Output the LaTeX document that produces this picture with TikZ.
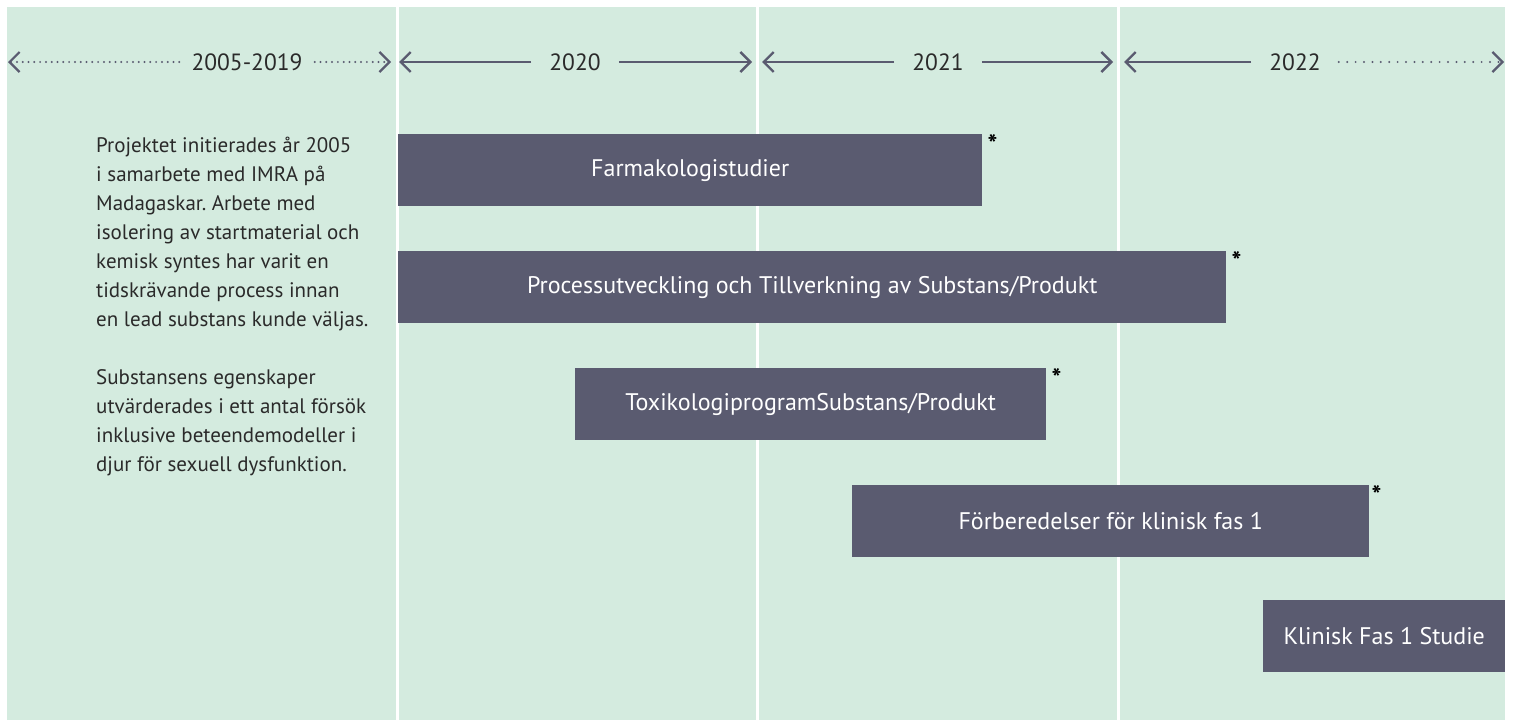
\documentclass[tikz,border=0pt]{standalone}
\usepackage{fontspec}
\setmainfont{PT Sans}
\usepackage{xcolor}
\usetikzlibrary{arrows.meta, positioning}
\definecolor{PaleMint}{HTML}{D4EBDF}
\definecolor{SlateBar}{HTML}{5A5B70}
\definecolor{InkGray}{HTML}{2A2A2A}
\frenchspacing

\begin{document}
\begin{tikzpicture}[
    x=1pt, y=-1pt,
    bar/.style={fill=SlateBar, text=white, font=\fontsize{24}{28}\selectfont, minimum height=72pt, inner sep=0pt, anchor=north west},
    yr/.style={font=\fontsize{23.5}{28}\selectfont, InkGray, inner xsep=18pt, inner ysep=0pt},
    span/.style={SlateBar, line width=2.4pt, -{Straight Barb[length=10pt, width=20pt]}},
    dots/.style={span, line width=2.2pt, line cap=round},
    body/.style={font=\fontsize{21}{29}\selectfont, InkGray, align=left, inner sep=0pt, anchor=north west},
    note/.style={font=\bfseries\fontsize{26}{28}\selectfont, text=black, inner sep=0pt, anchor=north west}
]
\useasboundingbox (0,0) rectangle (1514,720);

% Background and year columns
\fill[PaleMint] (7,7) rectangle (1505,720);
\foreach \x in {397.5, 757.5, 1118.5} {
    \draw[white, line width=2.5pt] (\x,7) -- (\x,720);
}

% Year headers
\node[yr, inner xsep=12pt] (y0) at (247,62) {2005-2019};
\node[yr] (y1) at (575,62) {2020};
\node[yr] (y2) at (938,62) {2021};
\node[yr] (y3) at (1295,62) {2022};

\coordinate (y0l) at (8,62);    \coordinate (y0r) at (391,62);
\coordinate (y1l) at (399,62);  \coordinate (y1r) at (752,62);
\coordinate (y2l) at (762,62);  \coordinate (y2r) at (1113,62);
\coordinate (y3l) at (1124,62); \coordinate (y3r) at (1504,62);

\draw[dots, dash pattern=on 0pt off 5.8pt] (y0.west) -- (y0l);
\draw[dots, dash pattern=on 0pt off 5.8pt] (y0.east) -- (y0r);
\draw[span] (y1.west) -- (y1l);
\draw[span] (y1.east) -- (y1r);
\draw[span] (y2.west) -- (y2l);
\draw[span] (y2.east) -- (y2r);
\draw[span] (y3.west) -- (y3l);
\draw[dots, dash pattern=on 0pt off 8.4pt] (y3.east) -- (y3r);

% Background text
\node[body] (intro) at (96,137) {Projektet initierades år 2005\\
i samarbete med IMRA på\\
Madagaskar. Arbete med\\
isolering av startmaterial och\\
kemisk syntes har varit en\\
tidskrävande process innan\\
en lead substans kunde väljas.\\[29pt]
Substansens egenskaper\\
utvärderades i ett antal försök\\
inklusive beteendemodeller i\\
djur för sexuell dysfunktion.};

% Activity bars
\node[bar, minimum width=584pt] (farm) at (398,134) {Farmakologistudier};
\node[bar, minimum width=828pt] (proc) at (398,251) {Processutveckling och Tillverkning av Substans/Produkt};
\node[bar, minimum width=471pt] (tox) at (575,368) {ToxikologiprogramSubstans/Produkt};
\node[bar, minimum width=517pt] (prep) at (852,485) {Förberedelser för klinisk fas 1};
\node[bar, minimum width=242pt] (fas1) at (1263,600) {Klinisk Fas 1 Studie};

% Footnote marks
\node[note] (farm-n) at ([xshift=5pt]farm.north east) {*};
\node[note] (proc-n) at ([xshift=5pt]proc.north east) {*};
\node[note] (tox-n) at ([xshift=5pt]tox.north east) {*};
\node[note] (prep-n) at ([xshift=2pt]prep.north east) {*};
\end{tikzpicture}
\end{document}
